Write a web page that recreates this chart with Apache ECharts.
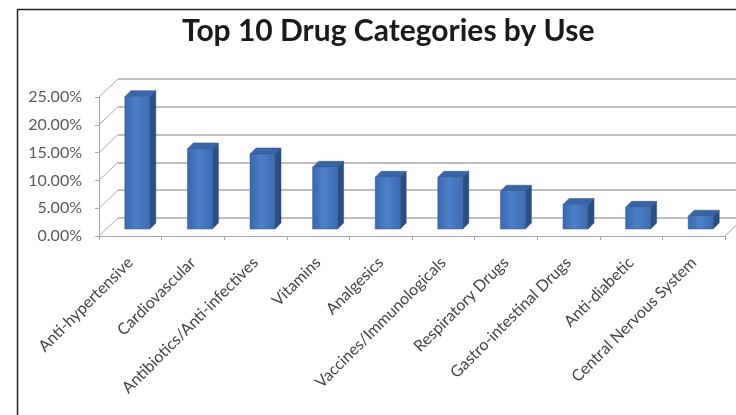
<!DOCTYPE html>
<html>
<head>
<meta charset="utf-8">
<script src="https://cdn.jsdelivr.net/npm/echarts@6/dist/echarts.min.js"></script>
<style>
html,body{margin:0;padding:0;background:#fff;}
#chart{width:736px;height:415px;}
</style>
</head>
<body>
<div id="chart"></div>
<script>
const categories = ["Anti-hypertensive","Cardiovascular","Antibiotics/Anti-infectives","Vitamins","Analgesics","Vaccines/Immunologicals","Respiratory Drugs","Gastro-intestinal Drugs","Anti-diabetic","Central Nervous System"];
const usage = [23.8, 14.4, 13.5, 11.1, 9.3, 9.3, 6.8, 4.4, 3.9, 2.3];
const yTicks = [0, 5, 10, 15, 20, 25];
const titleText = "Top 10 Drug Categories by Use";

// pseudo-3D geometry
const WALL_DX = 19, WALL_DY = -18;   // back wall offset
const BAR_DX = 7, BAR_DY = -7;       // bars sit mid-depth
const BAR_W = 25, BAR_D = 6;         // bar front width, bar depth

const chart = echarts.init(document.getElementById('chart'), null, {renderer:'canvas'});

const frontGrid = {left:99, top:97, width:626, height:139};
const backGrid = {left:99+WALL_DX, top:97+WALL_DY, width:626, height:139};

function renderBar(params, api){
  const i = api.value(0), v = api.value(1);
  const t = api.coord([i, v]);
  const b = api.coord([i, 0]);
  const cx = t[0] + BAR_DX;
  const x0 = cx - BAR_W/2, x1 = cx + BAR_W/2;
  const yT = t[1] + BAR_DY, yB = b[1] + BAR_DY;
  return {type:'group', children:[
    {type:'polygon', shape:{points:[[x1,yT],[x1+BAR_D,yT-BAR_D],[x1+BAR_D,yB-BAR_D],[x1,yB]]},
     style:{fill:'#2b4f85', stroke:'#27466f', lineWidth:0.5}},
    {type:'polygon', shape:{points:[[x0,yT],[x0+BAR_D,yT-BAR_D],[x1+BAR_D,yT-BAR_D],[x1,yT]]},
     style:{fill:'#3a65a4', stroke:'#2e5288', lineWidth:0.5}},
    {type:'rect', shape:{x:x0, y:yT, width:BAR_W, height:yB-yT},
     style:{fill:new echarts.graphic.LinearGradient(0,0,1,0,[
        {offset:0,color:'#3967ab'},{offset:0.45,color:'#4c80c9'},{offset:1,color:'#3c6bb0'}]),
        stroke:'#35609e', lineWidth:0.5}}
  ]};
}

function renderWall(params, api){
  const v = api.value(1);
  const p = api.coord([0, v]);
  const x = params.coordSys.x;
  const children = [{type:'line', shape:{x1:x, y1:p[1], x2:x+WALL_DX, y2:p[1]+WALL_DY},
    style:{stroke:'#a8a8a8', lineWidth:1}}];
  if (v === 0) {
    const xr = params.coordSys.x + params.coordSys.width;
    children.push({type:'line', shape:{x1:xr, y1:p[1], x2:xr+WALL_DX, y2:p[1]+WALL_DY},
      style:{stroke:'#a8a8a8', lineWidth:1}});
  }
  return {type:'group', children};
}

chart.setOption({
  backgroundColor:'#ffffff',
  animation:false,
  title:{
    text:titleText, left:177, top:11,
    textStyle:{fontFamily:'Lato', fontWeight:'bold', fontSize:30, color:'#1a1a1a'}
  },
  grid:[
    Object.assign({containLabel:false}, frontGrid),
    Object.assign({containLabel:false}, backGrid)
  ],
  xAxis:[
    {type:'category', gridIndex:0, data:categories,
     axisLine:{show:true, lineStyle:{color:'#a6a6a6', width:1}},
     axisTick:{show:true, length:4, lineStyle:{color:'#a6a6a6'}},
     axisLabel:{rotate:45, interval:0, margin:24, color:'#444', fontFamily:'Lato', fontSize:16}},
    {type:'category', gridIndex:1, data:categories, show:false}
  ],
  yAxis:[
    {type:'value', gridIndex:0, min:0, max:25, interval:5,
     axisLine:{show:true, lineStyle:{color:'#a6a6a6', width:1}},
     axisTick:{show:true, length:4, lineStyle:{color:'#a6a6a6'}},
     splitLine:{show:false},
     axisLabel:{margin:17, color:'#595959', fontFamily:'Lato', fontSize:16,
       formatter:(v)=>v.toFixed(2)+'%'}},
    {type:'value', gridIndex:1, min:0, max:25, interval:5,
     axisLine:{show:false}, axisTick:{show:false}, axisLabel:{show:false},
     splitLine:{show:true, lineStyle:{color:'#a9a9a9', width:1.5}}}
  ],
  series:[
    {type:'custom', xAxisIndex:0, yAxisIndex:0, renderItem:renderWall, clip:false,
     data:yTicks.map(v=>[0, v]), silent:true, z:1},
    {type:'custom', xAxisIndex:0, yAxisIndex:0, renderItem:renderBar, clip:false,
     data:usage.map((v,i)=>[i, v]), z:3}
  ],
  graphic:[
    {type:'polyline', shape:{points:[[17.5,415],[17.5,9.5],[736,9.5]]},
     style:{stroke:'#222', lineWidth:1.5, fill:null}, z:10}
  ]
});
</script>
</body>
</html>
